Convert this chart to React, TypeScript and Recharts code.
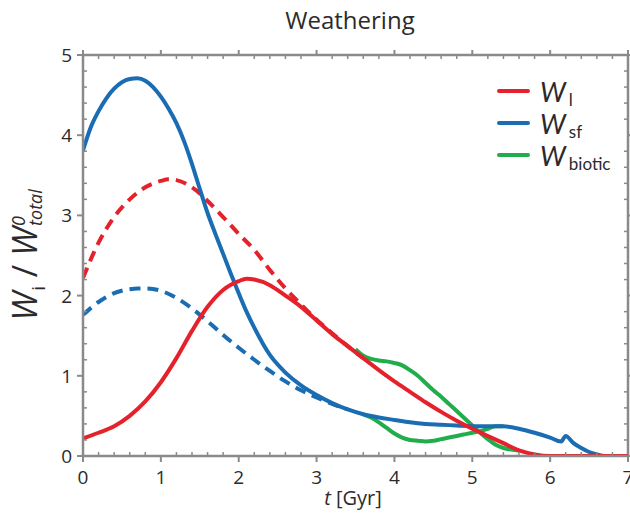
import { Line, LineChart, ReferenceLine, XAxis, YAxis } from "recharts";

// W_l (land weathering), solid + the dashed reference run
const wlT = [0, 0.2, 0.4, 0.6, 0.8, 1.0, 1.2, 1.4, 1.6, 1.8, 2.0, 2.1, 2.2, 2.4, 2.6, 2.8, 3.0, 3.2, 3.4, 3.6, 3.8, 4.0, 4.2, 4.4, 4.6, 4.8, 5.0, 5.2, 5.4, 5.6, 5.8, 6.0, 6.5, 7.0];
const wlV = [0.22, 0.29, 0.37, 0.5, 0.68, 0.92, 1.22, 1.56, 1.86, 2.07, 2.18, 2.21, 2.2, 2.13, 2.0, 1.86, 1.69, 1.52, 1.37, 1.22, 1.07, 0.93, 0.8, 0.67, 0.55, 0.44, 0.34, 0.25, 0.16, 0.07, 0.02, 0, 0, 0];
const wlDashT = [0, 0.2, 0.4, 0.6, 0.8, 1.0, 1.1, 1.2, 1.4, 1.6, 1.8, 2.0, 2.2, 2.4, 2.6, 2.8, 3.0, 3.2, 3.4, 3.6];
const wlDashV = [2.22, 2.66, 2.98, 3.2, 3.35, 3.43, 3.45, 3.44, 3.35, 3.18, 2.98, 2.77, 2.57, 2.32, 2.09, 1.89, 1.7, 1.53, 1.37, 1.22];

// W_sf (seafloor weathering)
const wsfT = [0, 0.1, 0.2, 0.3, 0.4, 0.5, 0.6, 0.7, 0.8, 0.9, 1.0, 1.1, 1.2, 1.3, 1.4, 1.5, 1.6, 1.7, 1.8, 1.9, 2.0, 2.1, 2.2, 2.4, 2.6, 2.8, 3.0, 3.2, 3.4, 3.6, 3.8, 4.0, 4.2, 4.4, 4.6, 4.8, 5.0, 5.2, 5.4, 5.6, 5.8, 6.0, 6.14, 6.2, 6.3, 6.4, 6.5, 6.6, 6.7, 7.0];
const wsfV = [3.81, 4.1, 4.3, 4.46, 4.58, 4.66, 4.7, 4.71, 4.68, 4.6, 4.48, 4.33, 4.15, 3.92, 3.64, 3.33, 3.03, 2.77, 2.52, 2.27, 2.03, 1.8, 1.6, 1.26, 1.04, 0.88, 0.76, 0.66, 0.58, 0.52, 0.48, 0.45, 0.42, 0.4, 0.39, 0.38, 0.37, 0.37, 0.37, 0.34, 0.29, 0.23, 0.18, 0.25, 0.16, 0.1, 0.05, 0.02, 0, 0];
const wsfDashT = [0, 0.2, 0.4, 0.6, 0.7, 0.8, 1.0, 1.2, 1.4, 1.6, 1.8, 2.0, 2.2, 2.4, 2.6, 2.8, 3.0, 3.2, 3.4];
const wsfDashV = [1.76, 1.92, 2.03, 2.08, 2.09, 2.09, 2.06, 1.97, 1.84, 1.68, 1.51, 1.35, 1.2, 1.06, 0.93, 0.82, 0.73, 0.65, 0.58];

// W_biotic, two branches leaving the land and seafloor curves
const wbUpT = [3.5, 3.6, 3.7, 3.8, 3.9, 4.0, 4.1, 4.2, 4.3, 4.4, 4.5, 4.6, 4.7, 4.8, 4.9, 5.0, 5.1, 5.2, 5.3, 5.4, 5.5, 5.6];
const wbUpV = [1.33, 1.25, 1.21, 1.19, 1.18, 1.16, 1.13, 1.07, 1.0, 0.91, 0.82, 0.74, 0.65, 0.56, 0.47, 0.38, 0.29, 0.21, 0.14, 0.1, 0.08, 0.07];
const wbLoT = [3.6, 3.7, 3.8, 3.9, 4.0, 4.1, 4.2, 4.3, 4.4, 4.5, 4.6, 4.7, 4.8, 4.9, 5.0, 5.1, 5.2, 5.3, 5.4];
const wbLoV = [0.52, 0.48, 0.42, 0.35, 0.28, 0.23, 0.2, 0.19, 0.18, 0.19, 0.21, 0.23, 0.25, 0.27, 0.29, 0.31, 0.34, 0.37, 0.37];

const xMajor = [0, 1, 2, 3, 4, 5, 6, 7];
const yMajor = [0, 1, 2, 3, 4, 5];
const xMinor = [0.2, 0.4, 0.6, 0.8, 1.2, 1.4, 1.6, 1.8, 2.2, 2.4, 2.6, 2.8, 3.2, 3.4, 3.6, 3.8, 4.2, 4.4, 4.6, 4.8, 5.2, 5.4, 5.6, 5.8, 6.2, 6.4, 6.6, 6.8];
const yMinor = [0.2, 0.4, 0.6, 0.8, 1.2, 1.4, 1.6, 1.8, 2.2, 2.4, 2.6, 2.8, 3.2, 3.4, 3.6, 3.8, 4.2, 4.4, 4.6, 4.8];

const RED = "#e5212b";
const BLUE = "#1a6cb3";
const GREEN = "#21ad4b";
const AXIS = "#8a8a8a";
const TEXT = "#2b2b2b";
const FONT = "'Open Sans', sans-serif";

const W = 630;
const H = 514;
const MARGIN = { top: 55, right: 2, left: 0, bottom: 0 };
const Y_AXIS_W = 83;
const X_AXIS_H = 58;
const PLOT_W = W - Y_AXIS_W - MARGIN.right;
const PLOT_H = H - MARGIN.top - X_AXIS_H;

const toPoints = (t: number[], v: number[]) => t.map((x, i) => ({ t: x, v: v[i] }));

// bottom axis tick: major ticks point out and carry a label, minor ones point in;
// the top edge of the frame gets the same ticks
const XTick = (props: any) => {
  const { x, y, payload } = props;
  const major = xMajor.includes(payload.value);
  const top = y - PLOT_H;
  if (!major) {
    return (
      <g stroke={AXIS} strokeWidth={1.5}>
        <line x1={x} x2={x} y1={y} y2={y - 4} />
        <line x1={x} x2={x} y1={top} y2={top + 4} />
      </g>
    );
  }
  return (
    <g>
      <line x1={x} x2={x} y1={y} y2={y + 6} stroke={AXIS} strokeWidth={2} />
      <line x1={x} x2={x} y1={top} y2={top - 5} stroke={AXIS} strokeWidth={2} />
      <text x={x} y={y + 21} textAnchor="middle" dominantBaseline="central" fontSize={19} fill={TEXT} fontFamily={FONT}>
        {payload.value}
      </text>
    </g>
  );
};

const YTick = (props: any) => {
  const { x, y, payload } = props;
  const major = yMajor.includes(payload.value);
  const right = x + PLOT_W;
  if (!major) {
    return (
      <g stroke={AXIS} strokeWidth={1.5}>
        <line x1={x} x2={x + 4} y1={y} y2={y} />
        <line x1={right} x2={right - 4} y1={y} y2={y} />
      </g>
    );
  }
  return (
    <g>
      <line x1={x} x2={x - 6} y1={y} y2={y} stroke={AXIS} strokeWidth={2} />
      <line x1={right} x2={right + 5} y1={y} y2={y} stroke={AXIS} strokeWidth={2} />
      <text x={x - 11} y={y} textAnchor="end" dominantBaseline="central" fontSize={19} fill={TEXT} fontFamily={FONT}>
        {payload.value}
      </text>
    </g>
  );
};

const legendRows = [
  { color: RED, sub: "l", y: 91 },
  { color: BLUE, sub: "sf", y: 123 },
  { color: GREEN, sub: "biotic", y: 155 },
];

export default function App() {
  const frameLine = { stroke: AXIS, strokeWidth: 2.5 };
  const series = [
    { key: "wlDash", data: toPoints(wlDashT, wlDashV), color: RED, dash: "11 7" },
    { key: "wsfDash", data: toPoints(wsfDashT, wsfDashV), color: BLUE, dash: "11 7" },
    { key: "wbUp", data: toPoints(wbUpT, wbUpV), color: GREEN },
    { key: "wbLo", data: toPoints(wbLoT, wbLoV), color: GREEN },
    { key: "wsf", data: toPoints(wsfT, wsfV), color: BLUE },
    { key: "wl", data: toPoints(wlT, wlV), color: RED },
  ];

  return (
    <div style={{ position: "absolute", left: 0, top: 0, width: W, height: H, background: "#fff", fontFamily: FONT, color: TEXT }}>
      <LineChart width={W} height={H} margin={MARGIN}>
        <XAxis
          type="number"
          dataKey="t"
          domain={[0, 7]}
          ticks={[...xMajor, ...xMinor]}
          interval={0}
          height={X_AXIS_H}
          tickSize={0}
          tickMargin={0}
          axisLine={frameLine}
          tickLine={false}
          tick={<XTick />}
          allowDataOverflow
        />
        <YAxis
          type="number"
          dataKey="v"
          domain={[0, 5]}
          ticks={[...yMajor, ...yMinor]}
          interval={0}
          width={Y_AXIS_W}
          tickSize={0}
          tickMargin={0}
          axisLine={frameLine}
          tickLine={false}
          tick={<YTick />}
          allowDataOverflow
        />
        <ReferenceLine y={5} stroke={AXIS} strokeWidth={2.5} ifOverflow="visible" />
        <ReferenceLine x={7} stroke={AXIS} strokeWidth={2.5} ifOverflow="visible" />
        {series.map((s) => (
          <Line
            key={s.key}
            data={s.data}
            dataKey="v"
            type="monotone"
            stroke={s.color}
            strokeWidth={4}
            strokeDasharray={s.dash}
            dot={false}
            activeDot={false}
            isAnimationActive={false}
          />
        ))}
      </LineChart>

      <div style={{ position: "absolute", left: 0, width: 700, top: 3, textAlign: "center", fontSize: 24 }}>Weathering</div>

      <div style={{ position: "absolute", left: 353, top: 497, transform: "translate(-50%, -50%)", fontSize: 20, whiteSpace: "nowrap" }}>
        <i>t</i> [Gyr]
      </div>

      <div style={{ position: "absolute", left: 31, top: 255, transform: "translate(-50%, -50%) rotate(-90deg)", whiteSpace: "nowrap", fontSize: 34, lineHeight: "40px" }}>
        <i>W</i>
        <span style={{ fontSize: 19, verticalAlign: -8, marginLeft: 1 }}>i</span>
        <span> / </span>
        <i>W</i>
        <span style={{ display: "inline-flex", flexDirection: "column", verticalAlign: 12, fontSize: 18, lineHeight: "17px", fontStyle: "italic", marginLeft: 1 }}>
          <span>0</span>
          <span>total</span>
        </span>
      </div>

      {legendRows.map((row) => (
        <div key={row.sub} style={{ position: "absolute", left: 497, top: row.y - 14, height: 28, display: "flex", alignItems: "center", whiteSpace: "nowrap", lineHeight: 1, fontFamily: "Lato, sans-serif" }}>
          <span style={{ display: "inline-block", width: 33, height: 4, background: row.color, borderRadius: 2 }} />
          <span style={{ marginLeft: 10, fontSize: 27, fontStyle: "italic", paddingRight: 3 }}>W</span>
          <span style={{ fontSize: 17, marginTop: 17 }}>{row.sub}</span>
        </div>
      ))}
    </div>
  );
}
